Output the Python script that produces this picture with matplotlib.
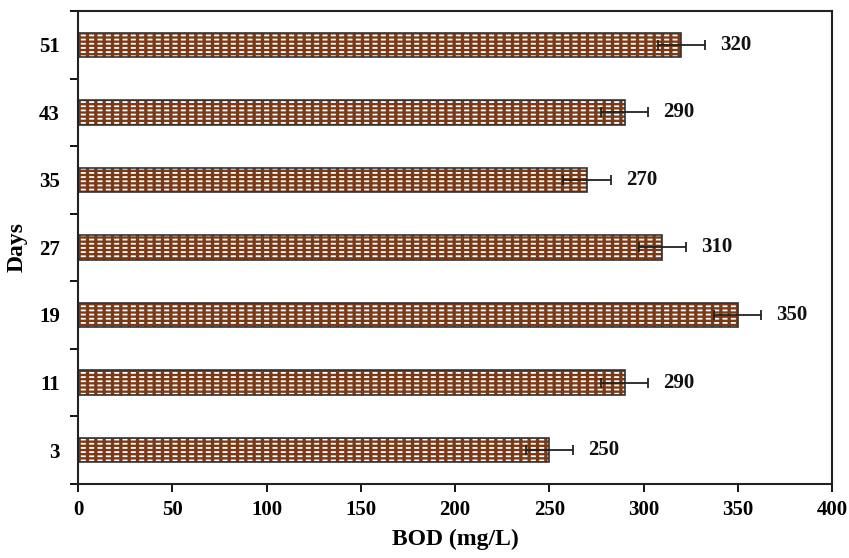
import matplotlib
matplotlib.use("Agg")
import matplotlib.pyplot as plt
import numpy as np

# Datos
dias = ["3", "11", "19", "27", "35", "43", "51"]
bod = [250, 290, 350, 310, 270, 290, 320]
error = [12.5, 12.5, 12.5, 12.5, 12.5, 12.5, 12.5]

marron = "#7A3A18"
fuente = "Liberation Serif"

plt.rcParams["font.family"] = fuente
plt.rcParams["font.weight"] = "bold"

fig = plt.figure(figsize=(8.49, 5.58), dpi=100)
ax = fig.add_axes([0.092, 0.133, 0.888, 0.847])

y = np.arange(len(dias))
alto = 0.36

# relleno marron con rayas blancas
plt.rcParams["hatch.linewidth"] = 1.3
ax.barh(y, bod, height=alto, color=marron, edgecolor="white", hatch="----", linewidth=0)
# cortar las rayas en guiones
plt.rcParams["hatch.linewidth"] = 2.4
ax.barh(y, bod, height=alto, color="none", edgecolor=marron, hatch="||", linewidth=0)
# borde
ax.barh(y, bod, height=alto, color="none", edgecolor="#333333", linewidth=1.2)

ax.errorbar(bod, y, xerr=error, fmt="none", ecolor="#222222", elinewidth=1.3, capsize=3.5, capthick=1.3)

for yi, v, e in zip(y, bod, error):
    ax.text(v + e + 8, yi, str(v), ha="left", va="center", fontsize=15, fontweight="bold", color="#111111")

ax.set_xlim(0, 400)
ax.set_ylim(-0.5, len(dias) - 0.5)
ax.set_xticks(np.arange(0, 401, 50))
ax.set_yticks(y)
ax.set_yticklabels(dias)
ax.set_yticks(np.arange(-0.5, len(dias), 1), minor=True)
ax.tick_params(axis="y", which="major", length=0, pad=13, labelsize=15)
ax.tick_params(axis="y", which="minor", length=6, width=1.3, direction="out")
ax.tick_params(axis="x", length=6, width=1.3, direction="out", labelsize=15, pad=6)

for s in ax.spines.values():
    s.set_linewidth(1.5)
    s.set_color("#222222")

ax.set_xlabel("BOD (mg/L)", fontsize=17, fontweight="bold", labelpad=6)
ax.set_ylabel("Days", fontsize=17, fontweight="bold", labelpad=8)

fig.savefig("out.png", dpi=100)
